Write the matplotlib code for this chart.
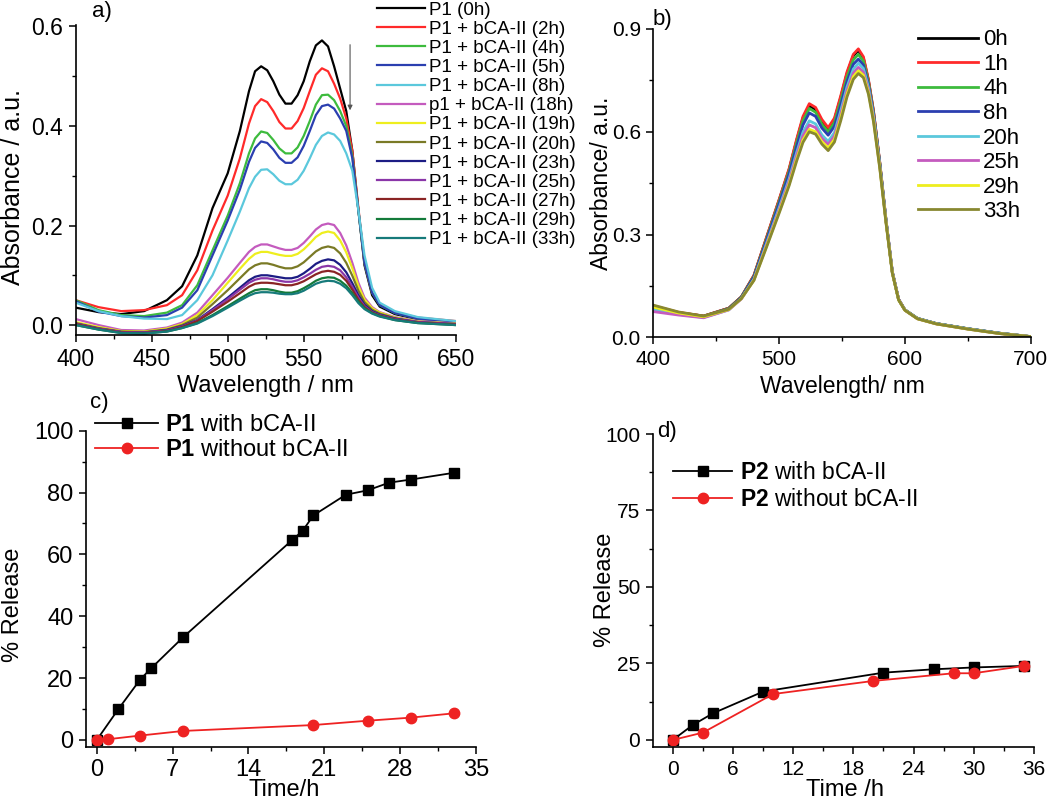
import numpy as np
import matplotlib
matplotlib.use("Agg")
import matplotlib.pyplot as plt
from matplotlib.ticker import MultipleLocator, FormatStrFormatter

plt.rcParams['font.family'] = ['Liberation Sans', 'DejaVu Sans']
plt.rcParams['mathtext.fontset'] = 'custom'
plt.rcParams['mathtext.rm'] = 'Liberation Sans'
plt.rcParams['mathtext.bf'] = 'Liberation Sans:bold'

# ---------------- Panel a data ----------------
wl_a = [400, 415, 430, 445, 460, 470, 480, 490, 500, 508, 514, 518, 522, 526, 530, 534, 538,
        542, 546, 550, 554, 558, 562, 566, 570, 574, 578, 582, 586, 590, 595, 600, 610, 625, 650]
labels_a = ["P1 (0h)", "P1 + bCA-II (2h)", "P1 + bCA-II (4h)", "P1 + bCA-II (5h)",
            "P1 + bCA-II (8h)", "p1 + bCA-II (18h)", "P1 + bCA-II (19h)",
            "P1 + bCA-II (20h)", "P1 + bCA-II (23h)", "P1 + bCA-II (25h)",
            "P1 + bCA-II (27h)", "P1 + bCA-II (29h)", "P1 + bCA-II (33h)"]
colors_a = ["#000000", "#FF2A2A", "#3DBB3D", "#2B3FB0", "#5BC8DC", "#C45BBE",
            "#EEEE1E", "#7A7A26", "#1C1C84", "#8A36A8", "#8A2424", "#147A3A", "#167A7A"]
a_0h  = [.035,.026,.022,.028,.050,.078,.140,.235,.305,.390,.470,.510,.520,.512,.490,.463,.445,.445,.462,.490,.530,.562,.572,.560,.520,.475,.430,.350,.230,.120,.060,.037,.022,.012,.007]
a_2h  = [.050,.036,.028,.030,.040,.060,.110,.190,.260,.335,.405,.440,.454,.448,.430,.408,.395,.395,.410,.436,.470,.503,.516,.510,.485,.455,.415,.350,.235,.125,.065,.042,.026,.015,.008]
a_4h  = [.050,.030,.020,.018,.025,.040,.080,.150,.220,.285,.345,.375,.389,.386,.372,.355,.345,.345,.357,.380,.410,.443,.462,.463,.452,.430,.400,.340,.230,.125,.065,.040,.024,.013,.006]
a_5h  = [.048,.027,.018,.015,.020,.035,.070,.140,.210,.272,.328,.356,.369,.366,.353,.336,.326,.326,.337,.360,.390,.422,.440,.443,.435,.415,.390,.335,.230,.125,.065,.040,.024,.013,.006]
a_8h  = [.045,.028,.018,.013,.012,.020,.050,.100,.170,.228,.275,.298,.312,.313,.303,.290,.283,.283,.292,.310,.335,.362,.380,.387,.383,.370,.345,.310,.230,.140,.075,.045,.028,.016,.008]
a_18h = [.012,.000,-.010,-.011,-.005,.005,.025,.060,.095,.125,.147,.157,.162,.162,.158,.154,.151,.151,.155,.165,.178,.192,.201,.204,.201,.185,.160,.125,.085,.055,.036,.026,.016,.008,.003]
a_19h = [.006,-.004,-.012,-.013,-.007,.002,.020,.050,.085,.113,.133,.143,.147,.147,.144,.141,.139,.139,.143,.152,.164,.177,.185,.188,.185,.170,.146,.114,.078,.051,.034,.025,.015,.007,.003]
a_20h = [.004,-.006,-.013,-.014,-.009,.000,.015,.042,.070,.094,.112,.120,.124,.124,.121,.117,.114,.114,.118,.126,.137,.148,.155,.158,.155,.144,.125,.099,.069,.046,.031,.023,.014,.006,.002]
a_23h = [.003,-.007,-.014,-.015,-.010,-.002,.010,.032,.055,.075,.090,.097,.100,.100,.098,.096,.094,.094,.097,.104,.113,.123,.129,.132,.130,.121,.106,.084,.060,.041,.028,.021,.013,.006,.002]
a_25h = [.003,-.007,-.014,-.015,-.011,-.003,.009,.030,.052,.071,.085,.091,.094,.094,.092,.089,.087,.087,.090,.096,.103,.111,.117,.119,.117,.110,.096,.077,.055,.038,.026,.020,.012,.006,.002]
a_27h = [.002,-.008,-.015,-.016,-.012,-.004,.008,.027,.047,.064,.077,.083,.085,.085,.084,.082,.080,.080,.083,.088,.095,.102,.107,.109,.107,.101,.089,.071,.051,.036,.025,.019,.011,.005,.001]
a_29h = [.000,-.009,-.016,-.017,-.013,-.006,.004,.020,.038,.053,.064,.070,.072,.072,.070,.067,.065,.065,.068,.074,.081,.089,.094,.096,.095,.089,.079,.064,.047,.034,.024,.018,.010,.004,.000]
a_33h = [.000,-.009,-.016,-.017,-.013,-.006,.003,.018,.035,.049,.059,.064,.066,.066,.065,.063,.062,.062,.064,.069,.076,.083,.087,.089,.088,.083,.074,.060,.044,.032,.023,.017,.010,.004,.000]
series_a = [a_0h, a_2h, a_4h, a_5h, a_8h, a_18h, a_19h, a_20h, a_23h, a_25h, a_27h, a_29h, a_33h]

# ---------------- Panel b data ----------------
wl_b = [400, 420, 440, 460, 470, 480, 490, 500, 508, 514, 519, 524, 529, 534, 539, 544, 549,
        554, 559, 563, 567, 571, 575, 580, 585, 590, 595, 600, 610, 625, 650, 675, 700]
labels_b = ["0h", "1h", "4h", "8h", "20h", "25h", "29h", "33h"]
colors_b = ["#000000", "#FF2A2A", "#3DBB3D", "#2B3FB0", "#5BC8DC", "#C45BBE", "#EEEE1E", "#888830"]
b_0h  = [.090,.072,.062,.085,.118,.180,.290,.400,.490,.575,.640,.676,.665,.630,.607,.635,.700,.770,.822,.838,.815,.750,.660,.510,.340,.190,.110,.080,.055,.040,.025,.012,.002]
b_1h  = [.092,.073,.062,.085,.118,.181,.292,.402,.493,.579,.645,.682,.671,.636,.612,.640,.705,.775,.826,.842,.819,.753,.662,.512,.342,.191,.111,.080,.055,.040,.025,.012,.002]
b_4h  = [.088,.071,.061,.084,.117,.178,.287,.396,.485,.568,.632,.668,.657,.622,.600,.627,.690,.760,.810,.826,.806,.745,.656,.508,.340,.190,.110,.080,.055,.040,.025,.012,.002]
b_8h  = [.085,.069,.060,.083,.116,.176,.283,.390,.478,.558,.620,.655,.645,.611,.590,.616,.678,.747,.797,.812,.795,.738,.652,.508,.342,.192,.111,.080,.055,.040,.025,.012,.002]
b_20h = [.080,.067,.058,.080,.113,.170,.274,.378,.463,.540,.599,.632,.623,.591,.572,.598,.661,.731,.783,.800,.785,.730,.646,.505,.340,.190,.110,.080,.055,.040,.025,.012,.002]
b_25h = [.075,.065,.057,.080,.112,.168,.270,.372,.456,.531,.588,.620,.612,.581,.563,.588,.650,.720,.771,.788,.774,.722,.640,.500,.337,.189,.110,.079,.054,.039,.024,.011,.002]
b_29h = [.088,.071,.060,.081,.113,.167,.266,.366,.448,.521,.576,.607,.600,.571,.553,.578,.640,.710,.761,.778,.765,.715,.635,.497,.335,.188,.109,.079,.054,.039,.024,.011,.002]
b_33h = [.094,.074,.062,.082,.113,.166,.263,.362,.443,.515,.569,.600,.593,.564,.545,.570,.632,.702,.753,.770,.758,.710,.630,.494,.333,.187,.109,.079,.054,.039,.024,.011,.002]
series_b = [b_0h, b_1h, b_4h, b_8h, b_20h, b_25h, b_29h, b_33h]

# ---------------- Panel c data ----------------
t_c_with = [0, 2, 4, 5, 8, 18, 19, 20, 23, 25, 27, 29, 33]
r_c_with = [0, 10.0, 19.5, 23.1, 33.3, 64.5, 67.6, 72.6, 79.3, 80.7, 83.2, 84.2, 86.4]
t_c_wo = [0, 1, 4, 8, 20, 25, 29, 33]
r_c_wo = [0, 0.2, 1.4, 2.9, 4.8, 6.2, 7.2, 8.6]

# ---------------- Panel d data ----------------
t_d_with = [0, 2, 4, 9, 21, 26, 30, 35]
r_d_with = [0, 4.9, 8.7, 15.8, 22.0, 23.1, 23.7, 24.2]
t_d_wo = [0, 3, 10, 20, 28, 30, 35]
r_d_wo = [0, 2.4, 15.0, 19.3, 21.8, 21.8, 24.2]

W, H = 1050, 802
fig = plt.figure(figsize=(W / 100, H / 100), dpi=100)


def rect(l, t, r, b):
    return [l / W, 1 - b / H, (r - l) / W, (b - t) / H]


def fx(x):
    return x / W


def fy(y):
    return 1 - y / H


def style(ax, tick_fs):
    for s in ("top", "right"):
        ax.spines[s].set_visible(False)
    for s in ("left", "bottom"):
        ax.spines[s].set_linewidth(1.2)
    ax.tick_params(which="major", direction="out", length=5, width=1.1,
                   labelsize=tick_fs, pad=4)
    ax.tick_params(which="minor", direction="out", length=3, width=1.0)


# ---- a ----
ax = fig.add_axes(rect(75.7, 25, 455.7, 335))
for y, c, lab in zip(series_a, colors_a, labels_a):
    ax.plot(wl_a, y, color=c, lw=1.6, label=lab)
ax.set_xlim(400, 650)
ax.set_ylim(-0.02, 0.603)
ax.xaxis.set_major_locator(MultipleLocator(50))
ax.xaxis.set_minor_locator(MultipleLocator(25))
ax.yaxis.set_major_locator(MultipleLocator(0.2))
ax.yaxis.set_minor_locator(MultipleLocator(0.1))
ax.yaxis.set_major_formatter(FormatStrFormatter('%.1f'))
style(ax, 16.5)
ax.set_xlabel("Wavelength / nm", fontsize=17)
ax.set_ylabel("Absorbance / a.u.", fontsize=18)
ax.xaxis.set_label_coords(fx(265.7), fy(375), transform=fig.transFigure)
ax.yaxis.set_label_coords(fx(25), fy(187), transform=fig.transFigure)
ax.annotate("", xy=(580.5, 0.426), xytext=(580.5, 0.569),
            arrowprops=dict(arrowstyle="-|>", color="#555555", lw=0.8, mutation_scale=7))
ax.legend(loc="upper left", bbox_to_anchor=(fx(377), fy(1.5)),
          bbox_transform=fig.transFigure, frameon=False, fontsize=13.5,
          handlelength=2.56, handletextpad=0.21, labelspacing=0.107,
          borderpad=0, borderaxespad=0)
fig.text(fx(102), fy(11), "a)", fontsize=16, ha="center", va="center")

# ---- b ----
ax = fig.add_axes(rect(653.3, 29, 1030.7, 337.3))
for y, c, lab in zip(series_b, colors_b, labels_b):
    ax.plot(wl_b, y, color=c, lw=2.0, label=lab)
ax.set_xlim(400, 700)
ax.set_ylim(0, 0.9)
ax.xaxis.set_major_locator(MultipleLocator(100))
ax.xaxis.set_minor_locator(MultipleLocator(50))
ax.yaxis.set_major_locator(MultipleLocator(0.3))
ax.yaxis.set_minor_locator(MultipleLocator(0.15))
ax.yaxis.set_major_formatter(FormatStrFormatter('%.1f'))
style(ax, 15)
ax.set_xlabel("Wavelength/ nm", fontsize=16.5)
ax.set_ylabel("Absorbance/ a.u.", fontsize=16.5)
ax.xaxis.set_label_coords(fx(842), fy(375), transform=fig.transFigure)
ax.yaxis.set_label_coords(fx(613), fy(183), transform=fig.transFigure)
ax.legend(loc="upper left", bbox_to_anchor=(fx(918), fy(29.3)),
          bbox_transform=fig.transFigure, frameon=False, fontsize=16,
          handlelength=2.7, handletextpad=0.23, labelspacing=0.16,
          borderpad=0, borderaxespad=0)
fig.text(fx(662), fy(19), "b)", fontsize=16, ha="center", va="center")

# ---- c ----
ax = fig.add_axes(rect(86, 430.7, 475.8, 747))
ax.plot(t_c_with, r_c_with, color="black", lw=1.3, marker="s", ms=6.5,
        label=r"$\mathbf{P1}$ with bCA-II")
ax.plot(t_c_wo, r_c_wo, color="#EE2222", lw=1.3, marker="o", ms=7.5,
        label=r"$\mathbf{P1}$ without bCA-II")
ax.set_xlim(-1, 35)
ax.set_ylim(-2.3, 100)
ax.xaxis.set_major_locator(MultipleLocator(7))
ax.xaxis.set_minor_locator(MultipleLocator(3.5))
ax.yaxis.set_major_locator(MultipleLocator(20))
ax.yaxis.set_minor_locator(MultipleLocator(10))
style(ax, 17)
ax.set_xlabel("Time/h", fontsize=17)
ax.set_ylabel("% Release", fontsize=17)
ax.xaxis.set_label_coords(fx(284), fy(779), transform=fig.transFigure)
ax.yaxis.set_label_coords(fx(24), fy(605), transform=fig.transFigure)
ax.legend(loc="upper left", bbox_to_anchor=(fx(95), fy(413.8)),
          bbox_transform=fig.transFigure, frameon=False, fontsize=17,
          handlelength=2.67, handletextpad=0.3, labelspacing=0.15,
          borderpad=0, borderaxespad=0, numpoints=1)
fig.text(fx(99), fy(403), "c)", fontsize=16, ha="center", va="center")

# ---- d ----
ax = fig.add_axes(rect(652.7, 434, 1034, 747.3))
ax.plot(t_d_with, r_d_with, color="black", lw=1.3, marker="s", ms=6.5,
        label=r"$\mathbf{P2}$ with bCA-II")
ax.plot(t_d_wo, r_d_wo, color="#EE2222", lw=1.3, marker="o", ms=7.5,
        label=r"$\mathbf{P2}$ without bCA-II")
ax.set_xlim(-2, 36)
ax.set_ylim(-2.4, 100)
ax.xaxis.set_major_locator(MultipleLocator(6))
ax.xaxis.set_minor_locator(MultipleLocator(3))
ax.yaxis.set_major_locator(MultipleLocator(25))
ax.yaxis.set_minor_locator(MultipleLocator(12.5))
style(ax, 15)
ax.set_xlabel("Time /h", fontsize=17)
ax.set_ylabel("% Release", fontsize=17)
ax.xaxis.set_label_coords(fx(845), fy(779), transform=fig.transFigure)
ax.yaxis.set_label_coords(fx(616), fy(590), transform=fig.transFigure)
ax.legend(loc="upper left", bbox_to_anchor=(fx(673), fy(461)),
          bbox_transform=fig.transFigure, frameon=False, fontsize=16.5,
          handlelength=2.58, handletextpad=0.35, labelspacing=0.19,
          borderpad=0, borderaxespad=0, numpoints=1)
fig.text(fx(667), fy(431), "d)", fontsize=16, ha="center", va="center")

fig.savefig("out.png", dpi=100)
